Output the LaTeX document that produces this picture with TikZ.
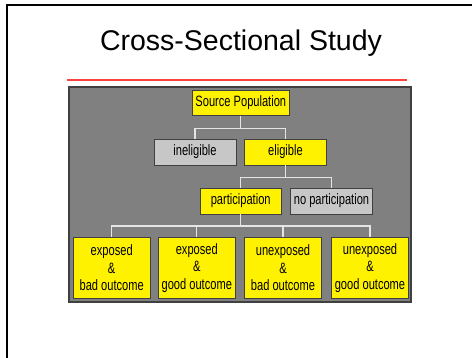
\documentclass[tikz,border=0pt]{standalone}
\usepackage{fontspec}
\setmainfont{Liberation Sans}
\newfontfamily\nf[FakeStretch=0.74]{Liberation Sans}
\definecolor{redline}{RGB}{255,64,64}
\begin{document}
\begin{tikzpicture}[x=1pt,y=-1pt,
  box/.style={draw=black!75, line width=0.9pt, inner sep=0pt, align=center,
    font=\nf\fontsize{15}{17.5}\selectfont},
  ybox/.style={box, fill=yellow},
  gbox/.style={box, fill=black!22},
  small/.style={minimum width=82pt, minimum height=26pt},
  big/.style={minimum width=77pt, minimum height=61pt},
  conn/.style={draw=black!10, line width=1.2pt}]
\useasboundingbox (0,0) rectangle (472,358);
\fill[white] (0,0) rectangle (472,358);
\draw[line width=2pt] (7,358) -- (7,5) -- (472,5);
\node[font=\fontsize{28.5}{30}\selectfont] (title) at (241,43) {Cross-Sectional Study};
\draw[redline, line width=1.2pt] (67,80) -- (407,80);
\draw[fill=black!50, draw=black!75, line width=1.5pt] (69,87) rectangle (411,302);

\node[ybox, minimum width=97pt, minimum height=25pt] (src) at (240.8,103) {Source Population};
\node[gbox, small] (inel) at (195,152) {ineligible};
\node[ybox, small] (elig) at (285.5,152) {eligible};
\node[ybox, small, minimum width=81pt] (part) at (240.7,201) {participation};
\node[gbox, small] (nopart) at (331.5,201) {no participation};
\node[ybox, big] (b1) at (111.7,268) {exposed\\\&\\bad outcome};
\node[ybox, big] (b2) at (196.8,268) {exposed\\\&\\good outcome};
\node[ybox, big] (b3) at (283,268) {unexposed\\\&\\bad outcome};
\node[ybox, big] (b4) at (370,268) {unexposed\\\&\\good outcome};

\coordinate (j1) at (0,128.3);
\coordinate (j2) at (0,177.3);
\coordinate (j3) at (0,226);
\draw[conn] (src.south) -- (src.south |- j1);
\draw[conn] (inel.north) |- (elig.north |- j1) -- (elig.north);
\draw[conn] (elig.south) -- (elig.south |- j2);
\draw[conn] (part.north) |- (nopart.north |- j2) -- (nopart.north);
\draw[conn] (part.south) -- (part.south |- j3);
\draw[conn] (b1.north) |- (b4.north |- j3) -- (b4.north);
\draw[conn] (b2.north) -- (b2.north |- j3);
\draw[conn] (b3.north) -- (b3.north |- j3);
\end{tikzpicture}
\end{document}
